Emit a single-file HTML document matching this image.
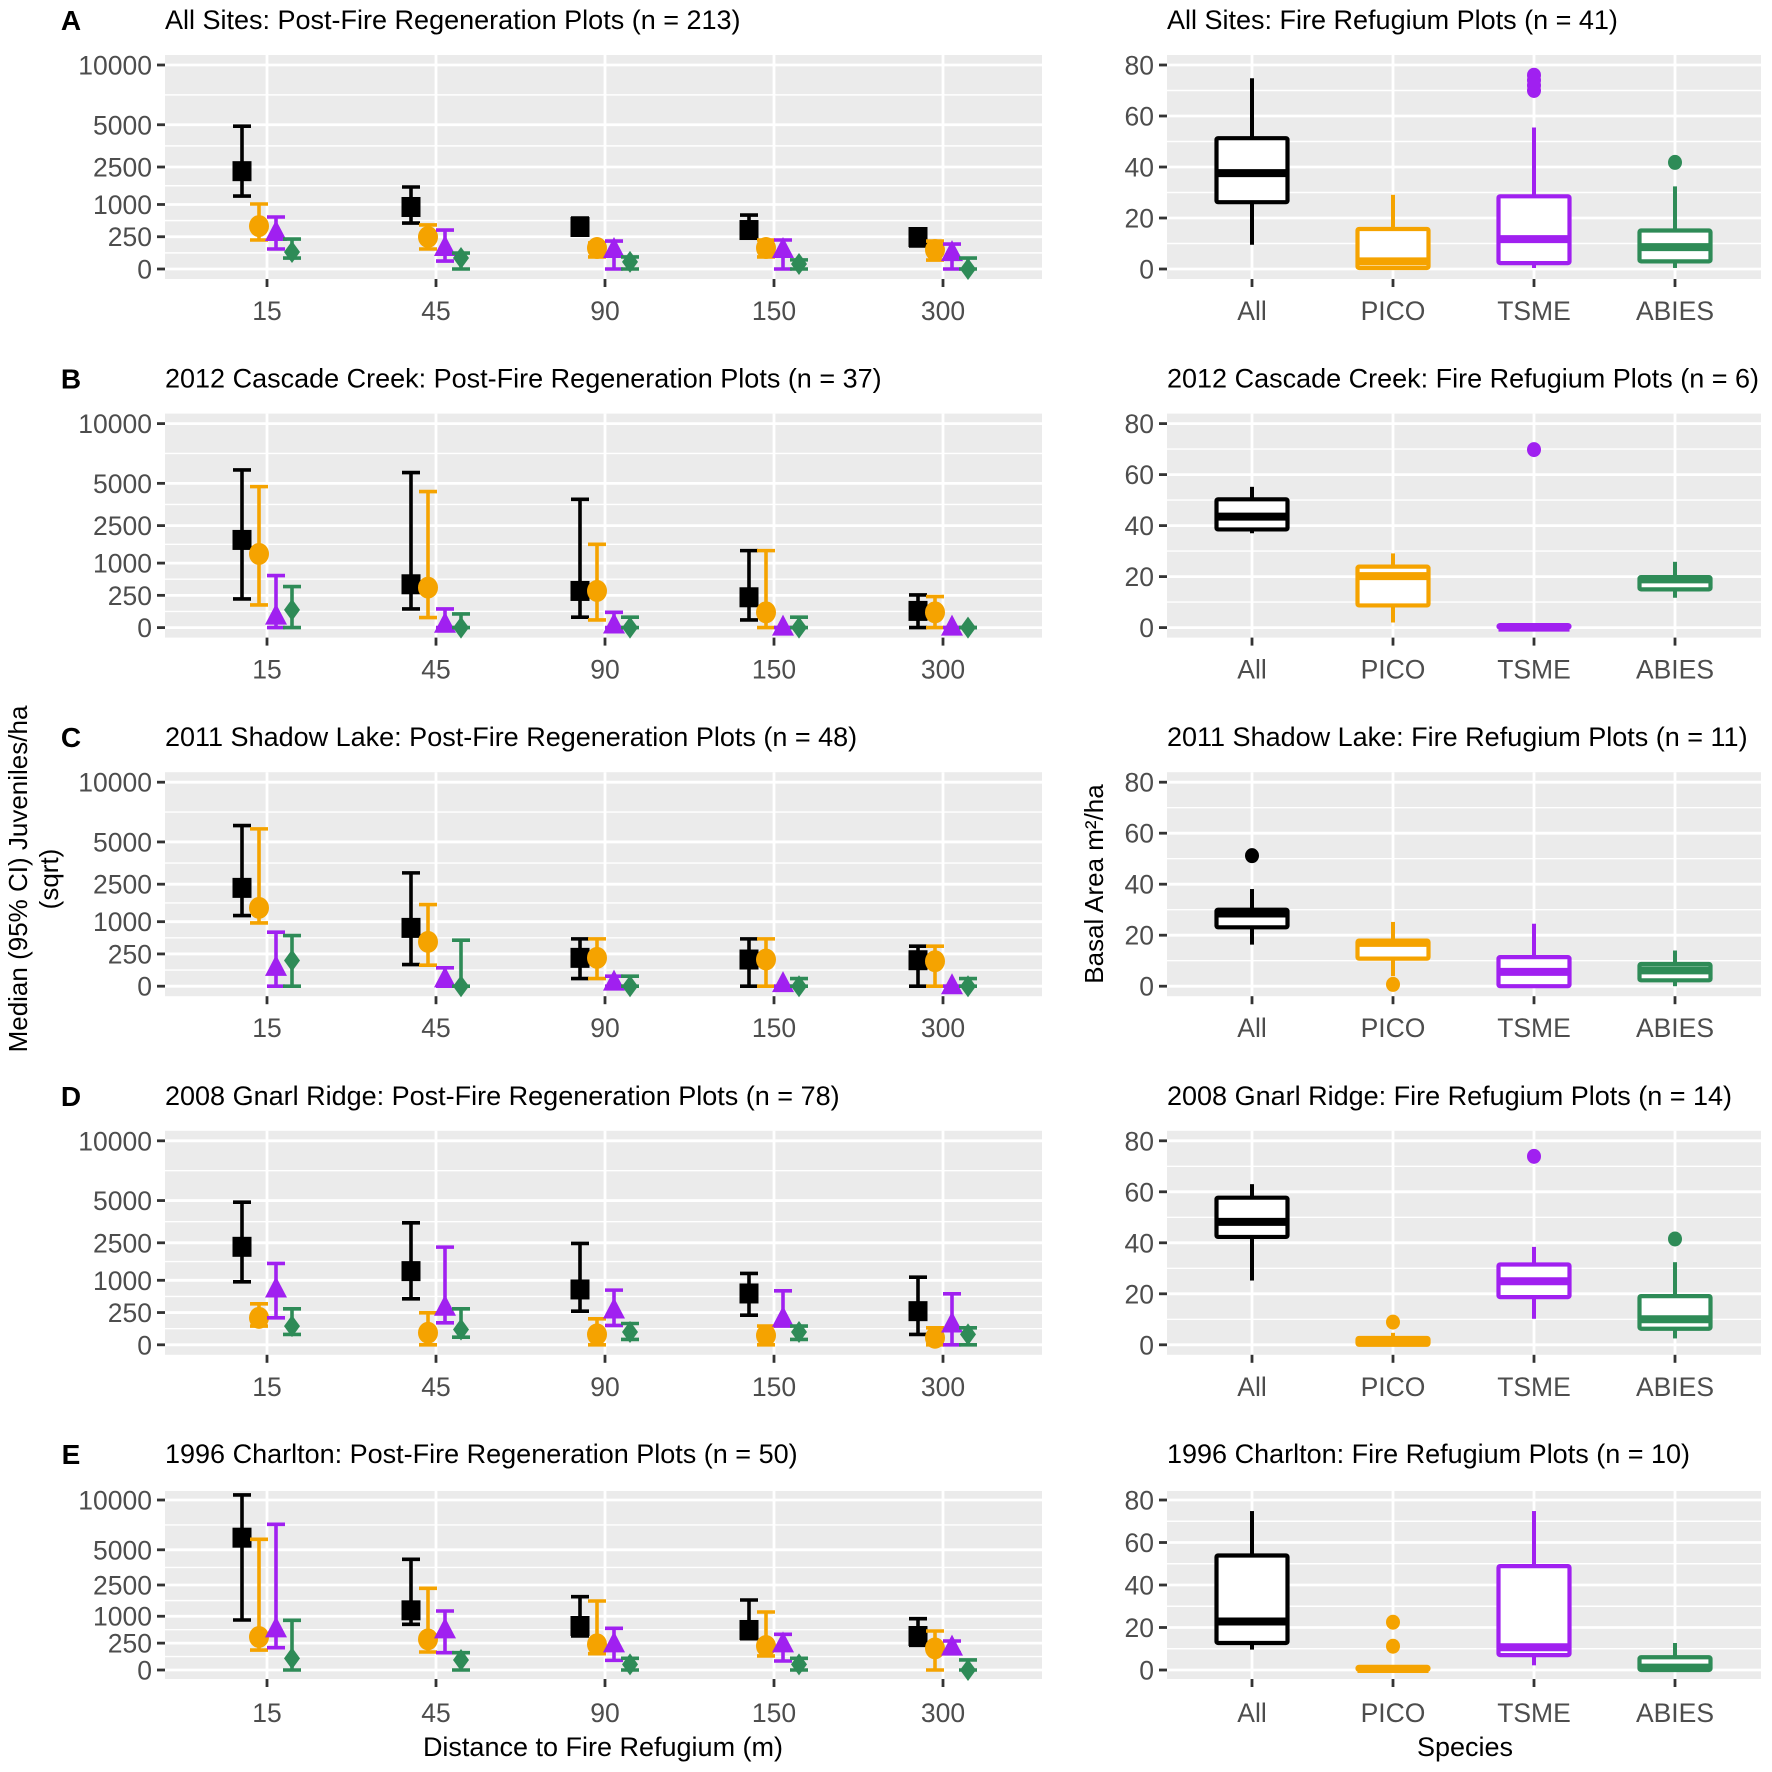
<!DOCTYPE html>
<html><head><meta charset="utf-8">
<style>
html,body{margin:0;padding:0;background:#fff;}
svg{display:block;font-family:"Liberation Sans",Arial,sans-serif;}
</style></head>
<body>
<svg id="fig" width="1772" height="1772" viewBox="0 0 1772 1772" xmlns="http://www.w3.org/2000/svg">
<rect x="0" y="0" width="1772" height="1772" fill="#fff"/>
<text transform="translate(27,879) rotate(-90)" text-anchor="middle" font-size="26" fill="#000">Median (95% CI) Juveniles/ha</text>
<text transform="translate(58,879) rotate(-90)" text-anchor="middle" font-size="26" fill="#000">(sqrt)</text>
<text transform="translate(1103,884) rotate(-90)" text-anchor="middle" font-size="26" fill="#000">Basal Area m²/ha</text>
<text x="603" y="1756" text-anchor="middle" font-size="27" fill="#000">Distance to Fire Refugium (m)</text>
<text x="1465" y="1756" text-anchor="middle" font-size="27" fill="#000">Species</text>
</svg>
<script>
// ---- data ----
const distances = ["15","45","90","150","300"];
const species = ["All","PICO","TSME","ABIES"];
const rowLetters = ["A","B","C","D","E"];
const leftTitles = ["All Sites: Post-Fire Regeneration Plots (n = 213)","2012 Cascade Creek: Post-Fire Regeneration Plots (n = 37)","2011 Shadow Lake: Post-Fire Regeneration Plots (n = 48)","2008 Gnarl Ridge: Post-Fire Regeneration Plots (n = 78)","1996 Charlton: Post-Fire Regeneration Plots (n = 50)"];
const rightTitles = ["All Sites: Fire Refugium Plots (n = 41)","2012 Cascade Creek: Fire Refugium Plots (n = 6)","2011 Shadow Lake: Fire Refugium Plots (n = 11)","2008 Gnarl Ridge: Fire Refugium Plots (n = 14)","1996 Charlton: Fire Refugium Plots (n = 10)"];
const leftTicks = [0,250,1000,2500,5000,10000];
const rightTicks = [0,20,40,60,80];

const allMed = [[2300,924,424,365,246],[1847,451,323,221,67],[2323,817,193,171,162],[2307,1304,736,633,272],[6058,1232,670,554,400]];
const allLo  = [[1280,508,278,231,127],[197,84,26,14,0],[1200,113,14,0,0],[954,508,272,211,26],[865,722,400,340,211]];
const allHi  = [[4900,1616,625,700,330],[5975,5773,3957,1424,256],[6203,3086,538,538,384],[4890,3576,2467,1223,1100],[10600,4238,1861,1696,912]];
const picoMed = [[443,246,106,106,87],[1304,384,323,56,56],[1474,472,193,171,150],[175,35,26,21,12],[377,325,228,199,162]];
const picoLo  = [[202,96,35,35,19],[123,24,14,0,0],[963,106,14,0,0],[84,0,0,0,0],[138,112,92,68,0]];
const picoHi  = [[1015,466,163,202,188],[4776,4446,1668,1424,231],[5948,1602,538,538,384],[404,246,162,84,69],[5907,2308,1647,1164,526]];
const tsmeMed = [[311,106,87,87,61],[29,2,1,0,0],[81,11,3,1,0],[736,329,283,162,99],[572,544,228,228,173]];
const tsmeLo  = [[96,15,0,0,0],[0,0,0,0,0],[0,0,0,0,0],[175,116,90,84,0],[173,104,32,28,104]];
const tsmeHi  = [[650,365,188,202,150],[650,84,56,0,0],[700,81,24,0,0],[1590,2292,718,700,625],[7342,1204,601,440,291]];
const abiesMed = [[69,29,12,6,0],[75,0,0,0,0],[158,0,0,0,0],[84,56,39,39,26],[47,35,11,11,0]];
const abiesLo  = [[29,0,0,0,0],[0,0,0,0,0],[0,0,0,0,0],[26,14,7,7,0],[0,0,0,0,0]];
const abiesHi  = [[216,61,35,20,29],[404,45,26,26,0],[616,508,24,14,14],[311,311,109,84,69],[854,104,47,47,35]];

const boxWLo = [[9.5,0,0.4,0.4],[37,2,0,11.7],[16.3,3.9,0,0],[25.2,0,10.2,2.5],[9.6,0,2.2,0]];
const boxQ1  = [[26.2,0.4,2.3,3],[38.5,8.7,0,15],[23.1,10.8,0,2.3],[42.3,0,18.7,6.3],[12.7,0,7,0]];
const boxMed = [[37.6,3,11.7,8.6],[43.5,20.2,0,18.9],[28.5,17,5.6,6.2],[48.2,1.4,24.9,10],[22.8,0.5,10.7,1.1]];
const boxQ3  = [[51.3,15.7,28.5,15.1],[50.3,23.9,1,19.8],[30,17.9,11.4,8.7],[57.7,2.7,31.5,19.1],[53.9,1.5,48.9,6]];
const boxWHi = [[74.8,29.1,55.5,32.4],[55.2,29.1,0,25.8],[38.1,25.2,24.5,14],[63,4.7,38.4,32.4],[74.8,0,74.8,12.7]];
const boxOutliers = [
  [[],[],[76,74,72,70],[41.8]],
  [[],[],[69.8],[]],
  [[51.2],[0.7],[],[]],
  [[],[8.9],[73.9],[41.5]],
  [[],[22.5,11.2],[],[]]
];

// ---- drawing ----
const NS="http://www.w3.org/2000/svg";
const svg=document.getElementById('fig');
const colors=["#000000","#F5A300","#A020F0","#2E8B57"];
const seriesMed=[allMed,picoMed,tsmeMed,abiesMed];
const seriesLo=[allLo,picoLo,tsmeLo,abiesLo];
const seriesHi=[allHi,picoHi,tsmeHi,abiesHi];
const dodge=[-25,-8,9,25];
const FS=26.5;
function mk(tag,attrs,parent){const e=document.createElementNS(NS,tag);for(const k in attrs)e.setAttribute(k,attrs[k]);(parent||svg).appendChild(e);return e;}

function rowGeom(r){
  if(r<4){const o=358.6*r;return {yMax:65+o,yZero:269+o,top:55+o,bot:279+o,title:29+o,lab:320+o};}
  return {yMax:1500,yZero:1670,top:1491,bot:1679,title:1463,lab:1722};
}
const LX0=165,LX1=1042,RX0=1167,RX1=1761;
function xLeft(i){return 267+169*i;}
function xRight(i){return 1252+141*i;}

for(let r=0;r<5;r++){
  const g=rowGeom(r);
  const ySq=v=>g.yZero-(g.yZero-g.yMax)*Math.sqrt(Math.max(v,0))/100;
  const yLin=v=>g.yZero-(g.yZero-g.yMax)*v/80;
  let t=mk('text',{x:71,y:g.title+1,'text-anchor':'middle','font-size':28,'font-weight':'bold'});
  
  
  t.textContent=rowLetters[r];
  t=mk('text',{x:LX0,y:g.title,'font-size':27,fill:'#000'});
  
  
  t.textContent=leftTitles[r];
  t=mk('text',{x:RX0,y:g.title,'font-size':27,fill:'#000'});
  
  
  t.textContent=rightTitles[r];

  // ---- left panel ----
  const lp=mk('g',{});
  
  
  mk('rect',{x:LX0,y:g.top,width:LX1-LX0,height:g.bot-g.top,fill:'#EBEBEB'},lp);
  const sq=leftTicks.map(v=>Math.sqrt(v));
  for(let i=0;i<sq.length-1;i++){const m=(sq[i]+sq[i+1])/2;const y=ySq(m*m);mk('line',{x1:LX0,x2:LX1,y1:y,y2:y,stroke:'#fff','stroke-width':1.4},lp);}
  leftTicks.forEach(v=>{const y=ySq(v);mk('line',{x1:LX0,x2:LX1,y1:y,y2:y,stroke:'#fff','stroke-width':2.8},lp);
    mk('line',{x1:LX0-8,x2:LX0,y1:y,y2:y,stroke:'#333','stroke-width':2.8});
    const tl=mk('text',{x:LX0-13,y:y+9.5,'text-anchor':'end','font-size':FS,fill:'#4D4D4D'});
    
    
    tl.textContent=String(v);});
  distances.forEach((d,i)=>{const x=xLeft(i);mk('line',{x1:x,x2:x,y1:g.top,y2:g.bot,stroke:'#fff','stroke-width':2.8},lp);
    mk('line',{x1:x,x2:x,y1:g.bot,y2:g.bot+8,stroke:'#333','stroke-width':2.8});
    const tl=mk('text',{x:x,y:g.lab,'text-anchor':'middle','font-size':FS,fill:'#4D4D4D'});
    
    
    tl.textContent=d;});
  for(let s=0;s<4;s++){
    for(let i=0;i<5;i++){
      const x=xLeft(i)+dodge[s],c=colors[s];
      const yl=ySq(seriesLo[s][r][i]),yh=ySq(seriesHi[s][r][i]),ym=ySq(seriesMed[s][r][i]);
      const eb=mk('g',{stroke:c,'stroke-width':3.6,fill:'none'},lp);
      
      
      mk('line',{x1:x,x2:x,y1:yl,y2:yh},eb);
      mk('line',{x1:x-9,x2:x+9,y1:yl,y2:yl},eb);
      mk('line',{x1:x-9,x2:x+9,y1:yh,y2:yh},eb);
      let p;
      if(s===0) p=mk('rect',{x:x-9.5,y:ym-10,width:19,height:20,fill:c},lp);
      else if(s===1) p=mk('ellipse',{cx:x,cy:ym,rx:10,ry:11,fill:c},lp);
      else if(s===2) p=mk('polygon',{points:`${x},${ym-13} ${x-11},${ym+8} ${x+11},${ym+8}`,fill:c},lp);
      else p=mk('polygon',{points:`${x},${ym-11} ${x-8},${ym} ${x},${ym+11} ${x+8},${ym}`,fill:c},lp);
      
      
    }
  }

  // ---- right panel ----
  const rp=mk('g',{});
  
  
  mk('rect',{x:RX0,y:g.top,width:RX1-RX0,height:g.bot-g.top,fill:'#EBEBEB'},rp);
  [10,30,50,70].forEach(v=>{const y=yLin(v);mk('line',{x1:RX0,x2:RX1,y1:y,y2:y,stroke:'#fff','stroke-width':1.4},rp);});
  rightTicks.forEach(v=>{const y=yLin(v);mk('line',{x1:RX0,x2:RX1,y1:y,y2:y,stroke:'#fff','stroke-width':2.8},rp);
    mk('line',{x1:RX0-8,x2:RX0,y1:y,y2:y,stroke:'#333','stroke-width':2.8});
    const tl=mk('text',{x:RX0-13,y:y+9.5,'text-anchor':'end','font-size':FS,fill:'#4D4D4D'});
    
    
    tl.textContent=String(v);});
  species.forEach((sp,i)=>{const x=xRight(i);mk('line',{x1:x,x2:x,y1:g.top,y2:g.bot,stroke:'#fff','stroke-width':2.8},rp);
    mk('line',{x1:x,x2:x,y1:g.bot,y2:g.bot+8,stroke:'#333','stroke-width':2.8});
    const tl=mk('text',{x:x,y:g.lab,'text-anchor':'middle','font-size':FS,fill:'#4D4D4D'});
    
    
    tl.textContent=sp;});
  for(let i=0;i<4;i++){
    const x=xRight(i),c=colors[i];
    const bx=mk('g',{stroke:c,fill:'none'},rp);
    
    
    const yq1=yLin(boxQ1[r][i]),yq3=yLin(boxQ3[r][i]);
    mk('line',{x1:x,x2:x,y1:yLin(boxWHi[r][i]),y2:yq3,'stroke-width':4},bx);
    mk('line',{x1:x,x2:x,y1:yLin(boxWLo[r][i]),y2:yq1,'stroke-width':4},bx);
    mk('rect',{x:x-35.5,y:yq3,width:71,height:Math.max(yq1-yq3,0.5),fill:'#fff','stroke-width':4.2,rx:1.5},bx);
    const ymd=yLin(boxMed[r][i]);
    mk('line',{x1:x-35.5,x2:x+35.5,y1:ymd,y2:ymd,'stroke-width':8},bx);
    boxOutliers[r][i].forEach(v=>{const o=mk('ellipse',{cx:x,cy:yLin(v),rx:7,ry:7.5,fill:c,stroke:'none'},rp);
      
      });
  }
}
</script>
</body></html>
